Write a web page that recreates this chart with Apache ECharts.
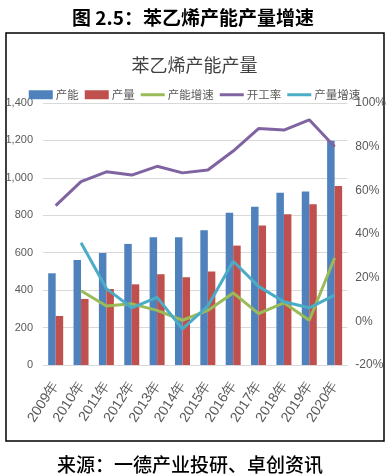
<!DOCTYPE html>
<html><head><meta charset="utf-8">
<script src="https://cdn.jsdelivr.net/npm/echarts@6/dist/echarts.min.js"></script>
<style>html,body{margin:0;padding:0;background:#fff}#c{width:389px;height:475px}</style>
</head><body><div id="c"></div>
<script>
const categories = ['2009年','2010年','2011年','2012年','2013年','2014年','2015年','2016年','2017年','2018年','2019年','2020年'];
const capacity = [490, 561, 599, 647, 683, 683, 720, 813, 845, 920, 927, 1198];
const output = [262, 353, 406, 431, 485, 469, 499, 638, 745, 806, 859, 957];
const capacityGrowth = [null, 14, 7, 8, 5, 0.5, 5, 13, 3.5, 8.5, 0.5, 29];
const utilization = [53, 64, 68.5, 67, 71, 68, 69.3, 78, 88.3, 87.6, 92.3, 80];
const outputGrowth = [null, 36, 15, 6.2, 11, -3.5, 7, 27.5, 16, 9, 6.2, 12];
const leftTicks = {min: 0, max: 1400, interval: 200};
const rightTicks = {min: -20, max: 100, interval: 20};

const gray = '#595959';
const cjk = "'Noto Sans CJK SC', sans-serif";
const num = "'Liberation Sans Narrow','Liberation Sans', sans-serif";
const lineIcon = 'path://M0,0 L24,0 L24,3 L0,3 Z';
const chart = echarts.init(document.getElementById('c'), null, {renderer: 'canvas'});
chart.setOption({
  animation: false,
  title: [
    {text: '图 2.5：苯乙烯产能产量增速', left: 67, top: 3,
     textStyle: {fontFamily: cjk, fontSize: 19, fontWeight: 'bold', color: '#000'}},
    {text: '苯乙烯产能产量', left: 'center', top: 51,
     textStyle: {fontFamily: cjk, fontSize: 18, fontWeight: 'normal', color: '#404040'}},
    {text: '来源：一德产业投研、卓创资讯', left: 52, top: 450,
     textStyle: {fontFamily: cjk, fontSize: 19, fontWeight: 500, color: '#000'}}
  ],
  graphic: [{type: 'rect', shape: {x: 6, y: 33, width: 378, height: 408},
    style: {fill: 'none', stroke: '#000', lineWidth: 1.5}, silent: true}],
  legend: {
    top: 84, left: 'center', itemWidth: 24, itemHeight: 9, itemGap: 6,
    textStyle: {fontFamily: cjk, fontSize: 11.5, color: gray, padding: [0, 0, 0, -2]},
    data: [
      {name: '产能', icon: 'rect'}, {name: '产量', icon: 'rect'},
      {name: '产能增速', icon: lineIcon}, {name: '开工率', icon: lineIcon}, {name: '产量增速', icon: lineIcon}
    ]
  },
  grid: {left: 43, right: 39, top: 103, bottom: 110},
  xAxis: {
    type: 'category', data: categories,
    axisLine: {lineStyle: {color: '#D9D9D9'}}, axisTick: {show: false},
    axisLabel: {rotate: 57, color: gray, fontFamily: num, fontSize: 14, margin: 18, interval: 0}
  },
  yAxis: [
    {type: 'value', min: leftTicks.min, max: leftTicks.max, interval: leftTicks.interval,
     axisLine: {show: false}, axisTick: {show: false},
     splitLine: {lineStyle: {color: '#D9D9D9', width: 1}},
     axisLabel: {color: gray, fontFamily: num, fontSize: 11, margin: 10,
       formatter: v => v.toLocaleString('en-US')}},
    {type: 'value', min: rightTicks.min, max: rightTicks.max, interval: rightTicks.interval,
     axisLine: {show: false}, axisTick: {show: false}, splitLine: {show: false},
     axisLabel: {color: gray, fontFamily: num, fontSize: 12, margin: 8, formatter: '{value}%'}}
  ],
  series: [
    {name: '产能', type: 'bar', data: capacity, barWidth: 7.5, barGap: '0%', itemStyle: {color: '#4F81BD'}},
    {name: '产量', type: 'bar', data: output, barWidth: 7.5, barGap: '0%', itemStyle: {color: '#C0504D'}},
    {name: '产能增速', type: 'line', yAxisIndex: 1, data: capacityGrowth, symbol: 'none',
     lineStyle: {color: '#9BBB59', width: 3}, itemStyle: {color: '#9BBB59'}},
    {name: '开工率', type: 'line', yAxisIndex: 1, data: utilization, symbol: 'none',
     lineStyle: {color: '#8064A2', width: 3}, itemStyle: {color: '#8064A2'}},
    {name: '产量增速', type: 'line', yAxisIndex: 1, data: outputGrowth, symbol: 'none',
     lineStyle: {color: '#4BACC6', width: 3}, itemStyle: {color: '#4BACC6'}}
  ]
});
</script></body></html>
